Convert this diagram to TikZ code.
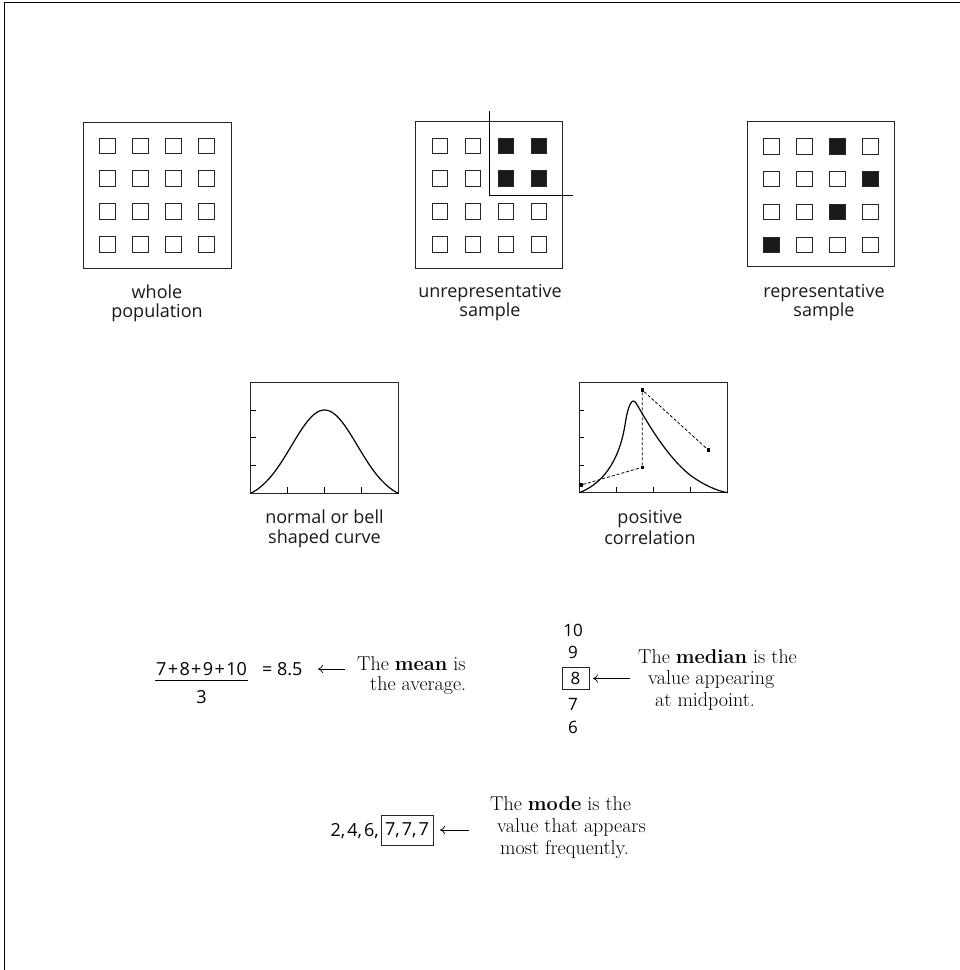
\documentclass[tikz,border=0pt]{standalone}
\usepackage{fontspec}
\setsansfont{Open Sans}
\usetikzlibrary{arrows.meta}
\begin{document}
\begin{tikzpicture}[x=1pt,y=-1pt,
  lab/.style={font=\sffamily\fontsize{18}{20}\selectfont, text=black!90, inner sep=0pt, anchor=base},
  num/.style={font=\sffamily\fontsize{17}{20}\selectfont, inner sep=0pt, anchor=base},
  bignum/.style={font=\sffamily\fontsize{18}{20}\selectfont, inner sep=0pt, anchor=base},
  ser/.style={font=\rmfamily\fontsize{20}{22}\selectfont, inner sep=0pt, anchor=base west},
  cell/.style={draw=black!85, line width=0.8pt, minimum size=15.5pt, inner sep=0pt},
  blk/.style={cell, fill=black!90},
  gbox/.style={draw=black!85, line width=1pt, inner sep=0pt},
  tk/.style={line width=0.8pt},
  crv/.style={line width=1.2pt},
  mk/.style={fill=black, minimum size=3.5pt, inner sep=0pt},
  dln/.style={dash pattern=on 3pt off 2pt, line width=0.8pt},
  ptr/.style={-{To[length=5pt,width=8pt]}, line width=0.7pt},
  valbox/.style={draw=black!85, line width=0.8pt}
]
\useasboundingbox (0,0) rectangle (960,970);
% page frame
\draw[line width=1pt] (4,970) -- (4,2) -- (960,2);

% ---------- grid 1: whole population ----------
\node[gbox, minimum width=148pt, minimum height=146pt] (g1) at (157,195) {};
\foreach \c in {0,...,3}{\foreach \r in {0,...,3}{
  \node[cell] (ga-\r-\c) at ({107.5+33*\c},{145.8+32.8*\r}) {};
}}
\node[lab] (g1l1) at (157,298) {whole};
\node[lab] (g1l2) at (157,317) {population};

% ---------- grid 2: unrepresentative sample ----------
\node[gbox, minimum width=147pt, minimum height=147pt] (g2) at (489.4,195.3) {};
\foreach \c in {0,...,3}{\foreach \r in {0,...,3}{
  \pgfmathtruncatemacro\isb{(\r<2)&&(\c>1)}
  \ifnum\isb=1
    \node[blk] (gb-\r-\c) at ({439.9+33*\c},{145.8+32.8*\r}) {};
  \else
    \node[cell] (gb-\r-\c) at ({439.9+33*\c},{145.8+32.8*\r}) {};
  \fi
}}
\coordinate (s1) at (489.3,111);
\coordinate (s2) at (489.3,195);
\coordinate (s3) at (573.3,195);
\draw[line width=0.9pt] (s1) -- (s2) -- (s3);
\node[lab] (g2l1) at (490,297) {unrepresentative};
\node[lab] (g2l2) at (490,316) {sample};

% ---------- grid 3: representative sample ----------
\node[gbox, minimum width=147pt, minimum height=145pt] (g3) at (821.3,194.4) {};
\foreach \c in {0,...,3}{\foreach \r in {0,...,3}{
  \pgfmathtruncatemacro\isb{((\r==0)&&(\c==2))||((\r==1)&&(\c==3))||((\r==2)&&(\c==2))||((\r==3)&&(\c==0))}
  \ifnum\isb=1
    \node[blk] (gc-\r-\c) at ({771.5+33*\c},{146.3+32.8*\r}) {};
  \else
    \node[cell] (gc-\r-\c) at ({771.5+33*\c},{146.3+32.8*\r}) {};
  \fi
}}
\node[lab] (g3l1) at (824,297) {representative};
\node[lab] (g3l2) at (824,316) {sample};

% ---------- bell curve ----------
\node[gbox, minimum width=147.6pt, minimum height=111pt] (bell) at (324.5,437.8) {};
\foreach \yy in {410.05,437.8,465.5}{\draw[tk] (250.7,\yy) -- ++(5,0);}
\foreach \xx in {287.6,324.5,361.4}{\draw[tk] (\xx,493.3) -- ++(0,-6);}
\draw[crv] plot[domain=-73.8:73.8, samples=90, smooth]
  ({324.5+\x},{493.3-83.3*(exp(-(\x*\x)/2178)-0.0821)/0.9179});
\node[lab] (bl1) at (324.5,523) {normal or bell};
\node[lab] (bl2) at (324.5,543) {shaped curve};

% ---------- positive correlation ----------
\node[gbox, minimum width=148.4pt, minimum height=110pt] (corr) at (653.5,437.7) {};
\foreach \yy in {410.2,437.7,465.2}{\draw[tk] (579.3,\yy) -- ++(5,0);}
\foreach \xx in {616.4,653.5,690.6}{\draw[tk] (\xx,492.7) -- ++(0,-6);}
\draw[crv] (579.3,492.7) .. controls (602,484) and (619,462) .. (625,425)
  .. controls (628,405) and (632,397) .. (636,403)
  .. controls (645,418) and (665,455) .. (690,475)
  .. controls (705,486) and (718,491) .. (727.7,492.7);
\node[mk] (pA) at (581,485) {};
\node[mk] (pB) at (642.3,467.3) {};
\node[mk] (pC) at (642.3,390) {};
\node[mk] (pD) at (708.3,450) {};
\draw[dln] (pA) -- (pB) -- (pC) -- (pD);
\node[lab] (cl1) at (650,523) {positive};
\node[lab] (cl2) at (650,544) {correlation};

% ---------- mean ----------
\node[bignum] (msum) at (201.5,675.4) {7\kern1.4pt+\kern1.4pt8\kern1.4pt+\kern1.4pt9\kern1.4pt+\kern1.4pt10};
\coordinate (fl) at (155,680.5);
\coordinate (fr) at (247.7,680.5);
\draw[line width=0.8pt] (fl) -- (fr);
\node[bignum] (mden) at (201.5,703.5) {3};
\node[bignum, anchor=base west] (mres) at (262,675.4) {= 8.5};
\coordinate (ma1) at (345,669);
\coordinate (ma2) at (318,669);
\draw[ptr] (ma1) -- (ma2);
\node[ser] (mt1) at (357,670) {The \textbf{mean} is};
\node[ser] (mt2) at (370,690.5) {the average.};

% ---------- median ----------
\node[num] (d10) at (573,636) {10};
\node[num] (d9) at (573,658) {9};
\node[num, valbox, anchor=center, minimum width=27pt, minimum height=22pt] (d8) at (575.4,678) {8};
\node[num] (d7) at (573,710) {7};
\node[num] (d6) at (573,733) {6};
\coordinate (da1) at (630,678.5);
\coordinate (da2) at (593,678.5);
\draw[ptr] (da1) -- (da2);
\node[ser] (dt1) at (638,663) {The \textbf{median} is the};
\node[ser] (dt2) at (648,684.5) {value appearing};
\node[ser] (dt3) at (655,706) {at midpoint.};

% ---------- mode ----------
\node[bignum, anchor=base east] (o1) at (379,836.5) {2,\kern2pt4,\kern2pt6,};
\node[bignum, valbox, anchor=center, minimum width=52pt, minimum height=30pt] (o2) at (407,830) {7,\kern2pt7,\kern2pt7};
\coordinate (oa1) at (469,830);
\coordinate (oa2) at (440,830);
\draw[ptr] (oa1) -- (oa2);
\node[ser] (ot1) at (490,810) {The \textbf{mode} is the};
\node[ser] (ot2) at (497,832) {value that appears};
\node[ser] (ot3) at (500,854) {most frequently.};
\end{tikzpicture}
\end{document}
